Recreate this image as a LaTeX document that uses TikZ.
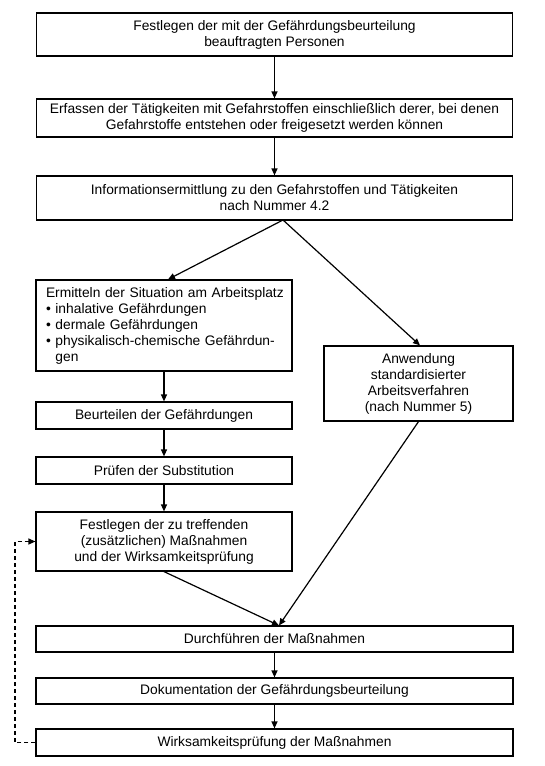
\documentclass[tikz,border=0pt]{standalone}
\usepackage{fontspec}
\setmainfont{Liberation Sans}
\usetikzlibrary{arrows.meta}
\begin{document}
\begin{tikzpicture}[x=1pt,y=-1pt,
  box/.style={draw, line width=1.2pt, inner sep=0pt, align=center,
    font=\fontsize{13.8}{16}\selectfont},
  arr/.style={line width=1.2pt, -{Triangle[length=7pt,width=6pt]}},
  darr/.style={line width=1.2pt, dash pattern=on 4pt off 3pt, -{Triangle[length=7pt,width=6pt]}}]
\useasboundingbox (0,0) rectangle (545,766);
\node[box, minimum width=476pt, minimum height=43pt] (b1) at (274.5,34.5)
  {Festlegen der mit der Gefährdungsbeurteilung\\beauftragten Personen};
\node[box, minimum width=476pt, minimum height=38pt] (b2) at (274.5,118)
  {Erfassen der Tätigkeiten mit Gefahrstoffen einschließlich derer, bei denen\\Gefahrstoffe entstehen oder freigesetzt werden können};
\node[box, minimum width=476pt, minimum height=44pt] (b3) at (274.5,198)
  {Informationsermittlung zu den Gefahrstoffen und Tätigkeiten\\nach Nummer 4.2};
\node[box, minimum width=256pt, minimum height=91pt, text width=236pt, align=left] (b4) at (164,325.5)
  {\mbox{Ermitteln der Situation am Arbeitsplatz}\\
   \mbox{• inhalative Gefährdungen}\\
   \mbox{• dermale Gefährdungen}\\
   \mbox{• physikalisch-chemische Gefährdun-}\\
   \mbox{\hphantom{• }gen}};
\node[box, minimum width=189pt, minimum height=75pt] (b5) at (418.5,383.5)
  {Anwendung\\standardisierter\\Arbeitsverfahren\\(nach Nummer 5)};
\node[box, minimum width=256pt, minimum height=27pt] (b6) at (164,415.5)
  {Beurteilen der Gefährdungen};
\node[box, minimum width=256pt, minimum height=27pt] (b7) at (164,470.5)
  {Prüfen der Substitution};
\node[box, minimum width=256pt, minimum height=59pt] (b8) at (164,541.5)
  {Festlegen der zu treffenden\\(zusätzlichen) Maßnahmen\\und der Wirksamkeitsprüfung};
\node[box, minimum width=477pt, minimum height=26pt] (b9) at (274.5,639)
  {Durchführen der Maßnahmen};
\node[box, minimum width=477pt, minimum height=26pt] (b10) at (274.5,691)
  {Dokumentation der Gefährdungsbeurteilung};
\node[box, minimum width=477pt, minimum height=27pt] (b11) at (274.5,742.5)
  {Wirksamkeitsprüfung der Maßnahmen};
\coordinate (split) at (283,220);
\coordinate (join) at (279,625.5);
\coordinate (d1) at (15,742.5);
\coordinate (d2) at (15,541.5);
\draw[arr] (b1) -- (b2);
\draw[arr] (b2) -- (b3);
\draw[arr] (split) -- (b4.north -| 168,0);
\draw[arr] (split) -- (b5.north -| 420,0);
\draw[arr] (b4) -- (b6);
\draw[arr] (b6) -- (b7);
\draw[arr] (b7) -- (b8);
\draw[arr] (b8.south) -- (join);
\draw[arr] (b5.south) -- (join);
\draw[arr] (b9) -- (b10);
\draw[arr] (b10) -- (b11);
\draw[darr] (b11.west) -- (d1) -- (d2) -- (b8.west);
\end{tikzpicture}
\end{document}
